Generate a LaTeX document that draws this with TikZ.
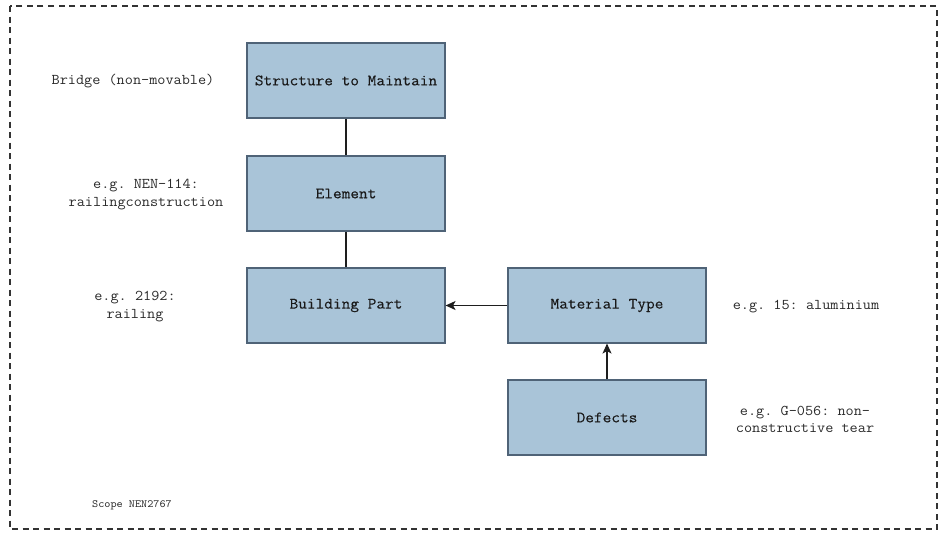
\documentclass[tikz,border=0pt]{standalone}
\usepackage{fontspec}
\setmonofont{Latin Modern Mono}[FakeStretch=1.06]
\newfontfamily\boxmono{Latin Modern Mono}[FakeStretch=1.06, FakeBold=0.3]
\usetikzlibrary{arrows.meta}
\definecolor{boxfill}{HTML}{A9C4D8}
\definecolor{boxline}{HTML}{4F6377}
\definecolor{linkcol}{HTML}{1E1E1E}
\definecolor{notecol}{HTML}{2A2A2A}
\tikzset{
  entity/.style={draw=boxline, fill=boxfill, line width=1.1pt,
    minimum width=198pt, minimum height=75pt, inner sep=0pt,
    font=\boxmono\fontsize{15.9}{18}\selectfont, text=black!90},
  note/.style={align=center, inner sep=0pt, text=notecol,
    font=\ttfamily\fontsize{14.9}{17.5}\selectfont},
  link/.style={draw=linkcol, line width=1.3pt},
  flow/.style={link, -{Stealth[length=10pt,width=9pt,inset=2.5pt]}},
}
\begin{document}
\begin{tikzpicture}[x=1pt, y=-1pt]
  \useasboundingbox (0,0) rectangle (941,533);
  % scope frame
  \draw[draw=black!80, line width=1.9pt, dash pattern=on 6pt off 4.5pt]
    (10,6) rectangle (937,529);

  % hierarchy boxes
  \node[entity] (struct) at (346,80.5)  {Structure to Maintain};
  \node[entity] (elem)   at (346,193.5) {Element};
  \node[entity] (part)   at (346,305.5) {Building Part};
  \node[entity] (mat)    at (607,305.5) {Material Type};
  \node[entity] (defect) at (607,417.5) {Defects};

  % example annotations
  \node[note] (nStruct) at (133,81)    {Bridge (non-movable)};
  \node[note] (nElem)   at (146,194.5) {e.g. NEN-114:\\railingconstruction};
  \node[note] (nPart)   at (135,306.5) {e.g. 2192:\\railing};
  \node[note] (nMat)    at (806,307)   {e.g. 15: aluminium};
  \node[note] (nDef)    at (805,419.5) {e.g. G-056: non-\\constructive tear};
  \node[note, font=\ttfamily\fontsize{11}{12}\selectfont] (scope) at (132,505) {Scope NEN2767};

  % connectors
  \draw[link] (struct) -- (elem);
  \draw[link] (elem) -- (part);
  \draw[flow] (mat) -- (part);
  \draw[flow] (defect) -- (mat);
\end{tikzpicture}
\end{document}
